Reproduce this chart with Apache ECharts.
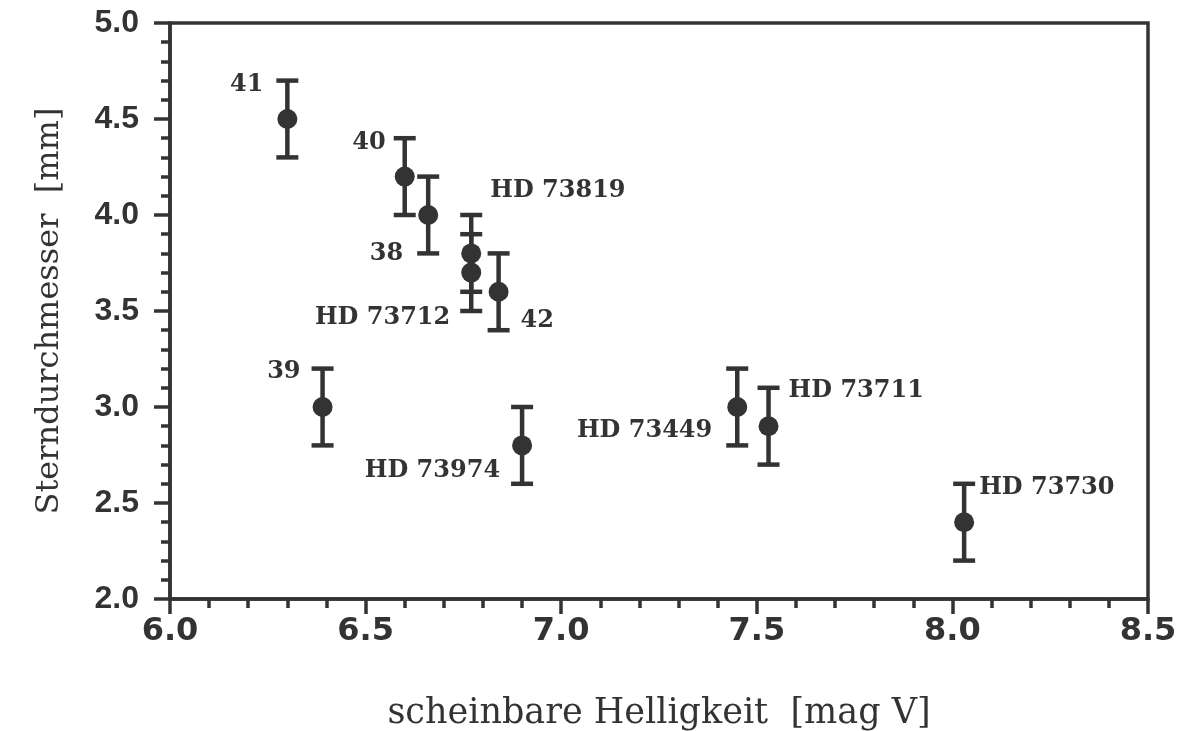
<!DOCTYPE html>
<html>
<head>
<meta charset="utf-8">
<script src="https://cdn.jsdelivr.net/npm/echarts@6/dist/echarts.min.js"></script>
<style>
  html, body { margin: 0; padding: 0; background: #fff; }
  #main { width: 1179px; height: 731px; }
</style>
</head>
<body>
<div id="main"></div>
<script>
var names = ['41', '40', '38', 'HD 73819', 'HD 73712', '42', '39', 'HD 73974', 'HD 73449', 'HD 73711', 'HD 73730'];
var magV = [6.30, 6.60, 6.66, 6.77, 6.77, 6.84, 6.39, 6.90, 7.45, 7.53, 8.03];
var diameter = [4.5, 4.2, 4.0, 3.8, 3.7, 3.6, 3.0, 2.8, 3.0, 2.9, 2.4];
var errLow = [4.3, 4.0, 3.8, 3.6, 3.5, 3.4, 2.8, 2.6, 2.8, 2.7, 2.2];
var errHigh = [4.7, 4.4, 4.2, 4.0, 3.9, 3.8, 3.2, 3.0, 3.2, 3.1, 2.6];

var ink = '#333333';
var dotSize = 20;

// where each name sits next to its dot: [align, dx, dy] in pixels
var labelPlace = {
  '41': ['right', -24, -34],
  '40': ['right', -19, -34],
  '38': ['right', -25, 39],
  'HD 73819': ['left', 19, -63],
  'HD 73712': ['right', -21, 45],
  '42': ['left', 22, 29],
  '39': ['right', -22, -35],
  'HD 73974': ['right', -22, 25],
  'HD 73449': ['right', -25, 24],
  'HD 73711': ['left', 20, -35],
  'HD 73730': ['left', 15, -34]
};

var points = names.map(function (n, i) {
  var p = labelPlace[n];
  return {
    name: n,
    value: [magV[i], diameter[i]],
    label: {
      show: true,
      formatter: n,
      position: [dotSize / 2 + p[1], dotSize / 2 + p[2]],
      align: p[0],
      verticalAlign: 'middle'
    }
  };
});

var bars = names.map(function (n, i) {
  return [magV[i], errLow[i], errHigh[i]];
});

var myChart = echarts.init(document.getElementById('main'));

var option = {
  backgroundColor: '#fff',
  animation: false,
  grid: {
    left: 170,
    right: 31,
    top: 23,
    bottom: 132,
    outerBoundsMode: 'none',
    show: true,
    borderColor: ink,
    borderWidth: 3.5,
    backgroundColor: 'transparent'
  },
  xAxis: {
    type: 'value',
    min: 6.0,
    max: 8.5,
    interval: 0.5,
    name: 'scheinbare Helligkeit  [mag V]',
    nameLocation: 'middle',
    nameGap: 97,
    nameTextStyle: { fontFamily: 'DejaVu Serif', fontSize: 35, color: ink },
    axisLine: { show: true, onZero: false, lineStyle: { color: ink, width: 3.5 } },
    axisTick: { show: true, length: 15, lineStyle: { color: ink, width: 3.5 } },
    minorTick: { show: true, splitNumber: 5, length: 9, lineStyle: { color: ink, width: 3.5 } },
    axisLabel: {
      margin: 17,
      fontFamily: 'DejaVu Sans',
      fontWeight: 'bold',
      fontSize: 32,
      color: ink,
      formatter: function (v) { return v.toFixed(1); }
    },
    splitLine: { show: false }
  },
  yAxis: {
    type: 'value',
    min: 2.0,
    max: 5.0,
    interval: 0.5,
    name: 'Sterndurchmesser  [mm]',
    nameLocation: 'middle',
    nameGap: 104,
    nameTextStyle: { fontFamily: 'DejaVu Serif', fontSize: 32, color: ink },
    axisLine: { show: true, onZero: false, lineStyle: { color: ink, width: 3.5 } },
    axisTick: { show: true, length: 16, lineStyle: { color: ink, width: 3.5 } },
    minorTick: { show: true, splitNumber: 5, length: 9, lineStyle: { color: ink, width: 3.5 } },
    axisLabel: {
      margin: 31,
      fontFamily: 'Liberation Sans',
      fontWeight: 'bold',
      fontSize: 32,
      color: ink,
      formatter: function (v) { return v.toFixed(1); }
    },
    splitLine: { show: false }
  },
  series: [
    {
      // error bars with caps
      type: 'custom',
      data: bars,
      renderItem: function (params, api) {
        var x = api.value(0);
        var lo = api.coord([x, api.value(1)]);
        var hi = api.coord([x, api.value(2)]);
        var half = 11;
        var style = { stroke: ink, lineWidth: 4.5 };
        return {
          type: 'group',
          children: [
            { type: 'line', shape: { x1: lo[0], y1: lo[1], x2: hi[0], y2: hi[1] }, style: style },
            { type: 'line', shape: { x1: lo[0] - half, y1: lo[1], x2: lo[0] + half, y2: lo[1] }, style: style },
            { type: 'line', shape: { x1: hi[0] - half, y1: hi[1], x2: hi[0] + half, y2: hi[1] }, style: style }
          ]
        };
      },
      z: 2
    },
    {
      type: 'scatter',
      data: points,
      symbol: 'circle',
      symbolSize: dotSize,
      itemStyle: { color: ink, opacity: 1 },
      label: {
        fontFamily: 'DejaVu Serif',
        fontWeight: 'bold',
        fontSize: 24,
        color: ink
      },
      z: 3
    }
  ]
};

myChart.setOption(option);
</script>
</body>
</html>
